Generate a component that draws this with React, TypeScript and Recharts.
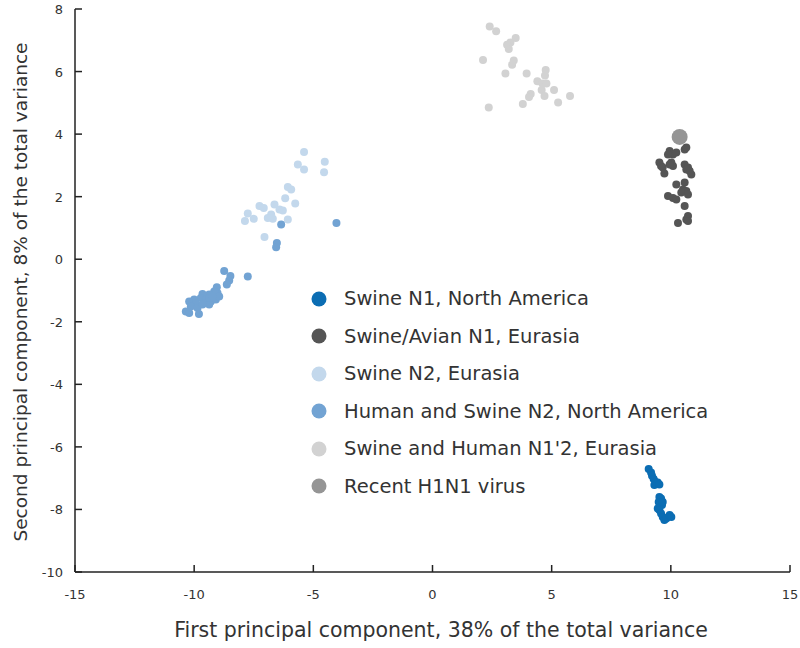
import React from "react";
import {
  ScatterChart,
  Scatter,
  XAxis,
  YAxis,
} from "recharts";

// principal component coordinates
const swineN1NorthAmerica = [
  { x: 9.07, y: -6.71 }, { x: 9.17, y: -6.82 }, { x: 9.21, y: -6.92 },
  { x: 9.28, y: -7.03 }, { x: 9.36, y: -7.12 }, { x: 9.31, y: -7.22 },
  { x: 9.45, y: -7.14 }, { x: 9.52, y: -7.2 }, { x: 9.52, y: -7.6 },
  { x: 9.59, y: -7.65 }, { x: 9.49, y: -7.76 }, { x: 9.63, y: -7.86 },
  { x: 9.45, y: -7.97 }, { x: 9.52, y: -8.02 }, { x: 9.59, y: -8.13 },
  { x: 9.66, y: -8.24 }, { x: 9.73, y: -8.34 }, { x: 9.81, y: -8.29 },
  { x: 9.95, y: -8.18 }, { x: 10.02, y: -8.24 }, { x: 9.66, y: -7.76 },
];

const swineAvianN1Eurasia = [
  { x: 9.95, y: 3.46 }, { x: 10.09, y: 3.35 }, { x: 9.88, y: 3.35 },
  { x: 10.23, y: 3.41 }, { x: 10.58, y: 3.51 }, { x: 10.65, y: 3.57 },
  { x: 9.52, y: 3.09 }, { x: 9.59, y: 2.98 }, { x: 9.66, y: 2.93 },
  { x: 10.02, y: 3.09 }, { x: 10.09, y: 2.98 }, { x: 9.95, y: 3.03 },
  { x: 10.58, y: 3.03 }, { x: 10.72, y: 2.93 }, { x: 10.79, y: 2.82 },
  { x: 10.65, y: 2.87 }, { x: 10.86, y: 2.71 }, { x: 9.73, y: 2.74 },
  { x: 10.23, y: 2.39 }, { x: 10.58, y: 2.45 }, { x: 10.51, y: 2.23 },
  { x: 10.65, y: 2.18 }, { x: 10.44, y: 2.13 }, { x: 10.72, y: 2.07 },
  { x: 9.88, y: 2.02 }, { x: 10.09, y: 1.96 }, { x: 10.23, y: 1.91 },
  { x: 10.58, y: 1.7 }, { x: 10.72, y: 1.38 }, { x: 10.65, y: 1.27 },
  { x: 10.3, y: 1.16 }, { x: 10.72, y: 1.22 },
];

const swineN2Eurasia = [
  { x: -5.39, y: 3.43 }, { x: -5.65, y: 3.03 }, { x: -5.39, y: 2.87 },
  { x: -4.52, y: 3.12 }, { x: -4.55, y: 2.78 }, { x: -6.07, y: 2.31 },
  { x: -5.93, y: 2.23 }, { x: -6.18, y: 1.95 }, { x: -6.63, y: 1.75 },
  { x: -5.76, y: 1.78 }, { x: -7.26, y: 1.7 }, { x: -7.08, y: 1.64 },
  { x: -6.42, y: 1.59 }, { x: -6.28, y: 1.56 }, { x: -7.75, y: 1.46 },
  { x: -6.77, y: 1.43 }, { x: -7.5, y: 1.29 }, { x: -7.87, y: 1.22 },
  { x: -6.91, y: 1.32 }, { x: -6.7, y: 1.29 }, { x: -6.07, y: 1.27 },
  { x: -7.05, y: 0.71 },
];

const humanSwineN2NorthAmerica = [
  { x: -6.35, y: 1.11 }, { x: -4.03, y: 1.16 }, { x: -6.53, y: 0.52 },
  { x: -6.56, y: 0.38 }, { x: -7.75, y: -0.55 },
  { x: -8.74, y: -0.38 }, { x: -8.48, y: -0.54 }, { x: -8.53, y: -0.68 },
  { x: -8.63, y: -0.81 }, { x: -9.05, y: -0.9 }, { x: -9.02, y: -1.08 },
  { x: -9.16, y: -1.03 }, { x: -9.37, y: -1.13 }, { x: -9.65, y: -1.11 },
  { x: -9.72, y: -1.24 }, { x: -9.51, y: -1.29 }, { x: -10.0, y: -1.29 },
  { x: -10.21, y: -1.35 }, { x: -9.93, y: -1.4 }, { x: -9.58, y: -1.4 },
  { x: -9.3, y: -1.35 }, { x: -9.09, y: -1.29 }, { x: -8.95, y: -1.19 },
  { x: -10.14, y: -1.51 }, { x: -9.86, y: -1.56 }, { x: -10.35, y: -1.67 },
  { x: -10.21, y: -1.72 }, { x: -9.8, y: -1.75 }, { x: -9.37, y: -1.45 },
  { x: -9.65, y: -1.45 }, { x: -9.37, y: -1.24 }, { x: -9.23, y: -1.19 },
];

const swineHumanN12Eurasia = [
  { x: 2.4, y: 7.44 }, { x: 2.67, y: 7.29 }, { x: 3.49, y: 7.07 },
  { x: 3.27, y: 6.93 }, { x: 3.13, y: 6.86 }, { x: 3.2, y: 6.72 },
  { x: 2.12, y: 6.37 }, { x: 3.41, y: 6.35 }, { x: 3.34, y: 6.22 },
  { x: 3.06, y: 5.94 }, { x: 3.95, y: 5.94 }, { x: 4.75, y: 6.05 },
  { x: 4.72, y: 5.87 }, { x: 4.4, y: 5.69 }, { x: 4.61, y: 5.62 },
  { x: 4.78, y: 5.62 }, { x: 5.1, y: 5.41 }, { x: 4.58, y: 5.41 },
  { x: 4.12, y: 5.28 }, { x: 4.05, y: 5.19 }, { x: 4.7, y: 5.22 },
  { x: 5.77, y: 5.22 }, { x: 5.27, y: 5.01 }, { x: 3.79, y: 4.96 },
  { x: 2.36, y: 4.85 },
];

const recentH1N1 = [{ x: 10.37, y: 3.91 }];

const xTicks = [-15, -10, -5, 0, 5, 10, 15];
const yTicks = [-10, -8, -6, -4, -2, 0, 2, 4, 6, 8];

const FONT = "'DejaVu Sans', sans-serif";

const groups = [
  { name: "Swine N1, North America", data: swineN1NorthAmerica, color: "#0b6db3", r: 4 },
  { name: "Swine/Avian N1, Eurasia", data: swineAvianN1Eurasia, color: "#555555", r: 4 },
  { name: "Swine N2, Eurasia", data: swineN2Eurasia, color: "#c3d8ec", r: 4 },
  { name: "Human and Swine N2, North America", data: humanSwineN2NorthAmerica, color: "#72a3d3", r: 4 },
  { name: "Swine and Human N1'2, Eurasia", data: swineHumanN12Eurasia, color: "#d2d2d2", r: 4 },
  { name: "Recent H1N1 virus", data: recentH1N1, color: "#959595", r: 8 },
];

const dot = (r: number, color: string) => (props: any) => (
  <circle cx={props.cx} cy={props.cy} r={r} fill={color} />
);

const XTick = (props: any) => {
  const { x, y, payload } = props;
  return (
    <g>
      <line x1={x} y1={y} x2={x} y2={y - 7} stroke="#222" strokeWidth={1.5} />
      <text x={x} y={y + 27} textAnchor="middle" fontSize={13} fill="#333" fontFamily={FONT}>
        {payload.value}
      </text>
    </g>
  );
};

const YTick = (props: any) => {
  const { x, y, payload } = props;
  return (
    <g>
      <line x1={x} y1={y} x2={x + 7} y2={y} stroke="#222" strokeWidth={1.5} />
      <text x={x - 12} y={y + 5} textAnchor="end" fontSize={13} fill="#333" fontFamily={FONT}>
        {payload.value}
      </text>
    </g>
  );
};

export default function App() {
  return (
    <div style={{ position: "absolute", left: 0, top: 0, width: 800, height: 648, background: "#fff" }}>
      <ScatterChart width={800} height={648} margin={{ top: 9, right: 10, bottom: 46, left: 35 }}>
        <XAxis
          type="number"
          dataKey="x"
          domain={[-15, 15]}
          ticks={xTicks}
          interval={0}
          tickSize={0}
          tickMargin={0}
          tickLine={false}
          tick={<XTick />}
          axisLine={{ stroke: "#222", strokeWidth: 1.5 }}
          height={30}
          allowDataOverflow
        />
        <YAxis
          type="number"
          dataKey="y"
          domain={[-10, 8]}
          ticks={yTicks}
          interval={0}
          tickSize={0}
          tickMargin={0}
          tickLine={false}
          tick={<YTick />}
          axisLine={{ stroke: "#222", strokeWidth: 1.5 }}
          width={40}
          allowDataOverflow
        />
        {groups.map((g) => (
          <Scatter
            key={g.name}
            name={g.name}
            data={g.data}
            fill={g.color}
            shape={dot(g.r, g.color)}
            isAnimationActive={false}
          />
        ))}
      </ScatterChart>
      <div
        style={{
          position: "absolute",
          left: 310,
          top: 280,
          fontFamily: FONT,
          fontSize: 19.5,
          color: "#333",
        }}
      >
        {groups.map((g) => (
          <div key={g.name} style={{ display: "flex", alignItems: "center", height: 37.5 }}>
            <svg width={34} height={20}>
              <circle cx={9} cy={10} r={7.5} fill={g.color} />
            </svg>
            <span>{g.name}</span>
          </div>
        ))}
      </div>
      <div
        style={{
          position: "absolute",
          left: 441,
          top: 630,
          transform: "translate(-50%, -50%)",
          whiteSpace: "nowrap",
          fontFamily: FONT,
          fontSize: 20.5,
          color: "#333",
        }}
      >
        First principal component, 38% of the total variance
      </div>
      <div
        style={{
          position: "absolute",
          left: 20,
          top: 292,
          transform: "translate(-50%, -50%) rotate(-90deg)",
          whiteSpace: "nowrap",
          fontFamily: FONT,
          fontSize: 18.5,
          color: "#333",
        }}
      >
        Second principal component, 8% of the total variance
      </div>
    </div>
  );
}
